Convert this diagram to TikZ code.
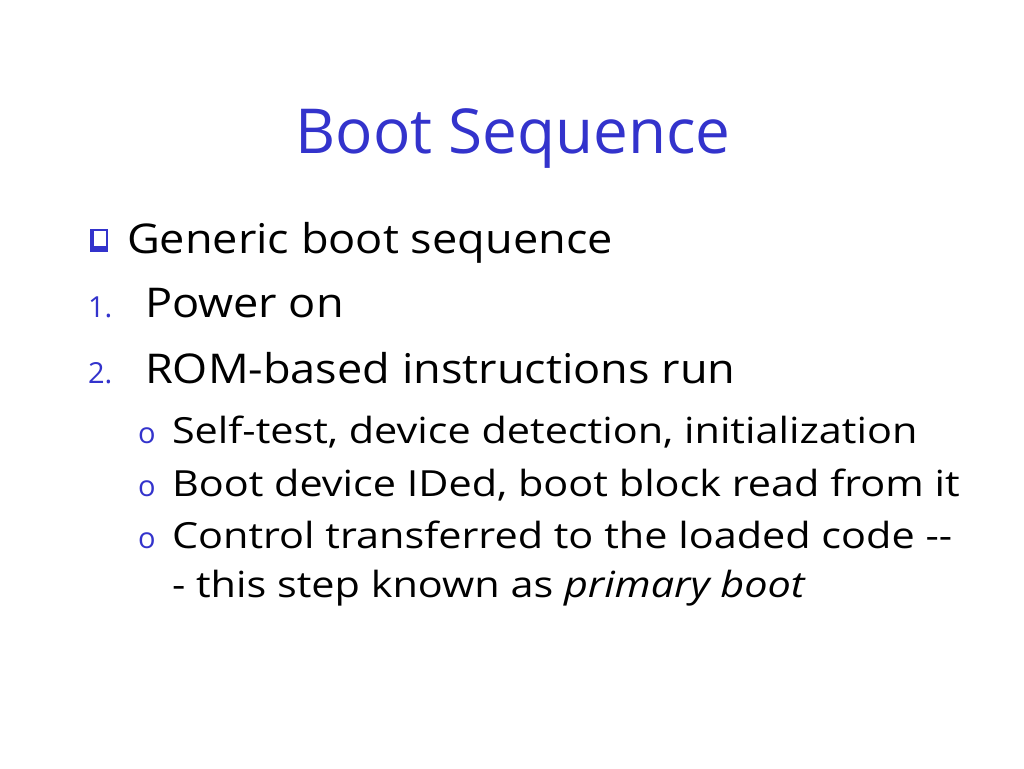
\documentclass[tikz,border=0pt]{standalone}
\usepackage{fontspec}
\setmainfont{Open Sans}
\newfontfamily\mainfont[FakeStretch=1.1]{Open Sans}
\newfontfamily\subfont[FakeStretch=1.15]{Open Sans}
\usepackage{tikz}
\usetikzlibrary{
  positioning
}

\definecolor{slideblue}{RGB}{51,51,204}

\begin{document}
\begin{tikzpicture}[
        x=1pt, y=-1pt
      ]
      \def \TitleSize {\fontsize{62}{62}\selectfont};
      \def \MainSize {\mainfont\fontsize{41}{41}\selectfont};
      \def \SubSize {\subfont\fontsize{36}{36}\selectfont};
      \def \NumSize {\fontsize{29}{29}\selectfont};
      \tikzstyle{line template}=[inner sep=0pt, outer sep=0pt, anchor=base west];
      \tikzstyle{mark template}=[line template, text=slideblue];

      \useasboundingbox [fill=white] (0, 0) rectangle (1024, 768);

      % title
      \node [inner sep=0pt
          , anchor=base
          , text=slideblue
          , font=\TitleSize
        ] (title) at (513, 153) {Boot Sequence};

      % square bullet
      \fill [slideblue] (90, 229) rectangle (108, 252);
      \fill [white] (94, 231) rectangle (106, 246);

      \node [line template, font=\MainSize] (generic) at (127, 253) {Generic boot sequence};

      % numbered steps
      \node [mark template, font=\NumSize] (one) at (88, 317) {1.};
      \node [line template, font=\MainSize] (power) at (145, 317) {Power on};

      \node [mark template, font=\NumSize] (two) at (88, 383) {2.};
      \node [line template, font=\MainSize] (rom) at (145, 383) {ROM-based instructions run};

      % sub items
      \node [mark template, font=\NumSize] (selfmark) at (138, 443) {o};
      \node [line template, font=\SubSize] (self) at (172, 443) {Self-test, device detection, initialization};

      \node [mark template, font=\NumSize] (bootmark) at (138, 496) {o};
      \node [line template, font=\SubSize] (bootdev) at (172, 496) {Boot device IDed, boot block read from it};

      \node [mark template, font=\NumSize] (ctrlmark) at (138, 548) {o};
      \node [line template, font=\SubSize] (ctrl) at (172, 548) {Control transferred to the loaded code -{}-};
      \node [line template, font=\SubSize] (ctrlcont) at (172, 597) {- this step known as \textit{primary boot}};

    \end{tikzpicture}
\end{document}
